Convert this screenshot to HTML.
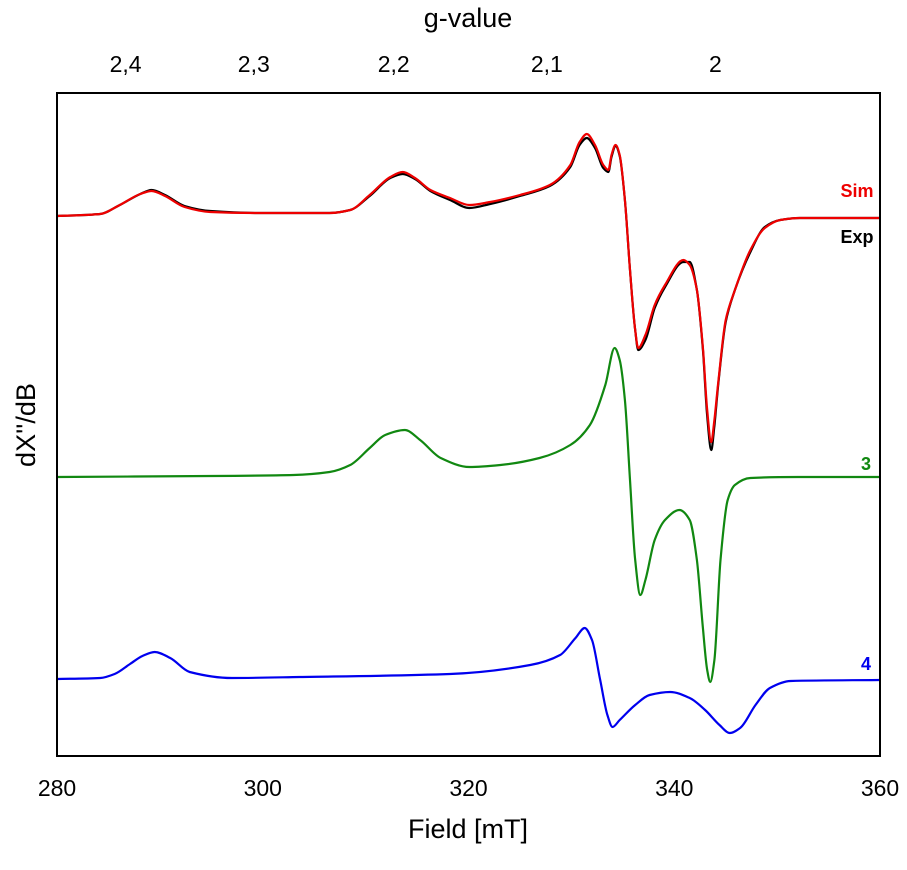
<!DOCTYPE html>
<html><head><meta charset="utf-8"><style>
body{margin:0;background:#fff;}
svg text{font-family:"Liberation Sans",Arial,sans-serif;}
</style></head><body>
<svg id="chart" width="907" height="865" viewBox="0 0 907 865" xmlns="http://www.w3.org/2000/svg"></svg>
<script>
const xTicks=[280,300,320,340,360];
const gTicks=[2.4,2.3,2.2,2.1,2.0];
const gTickLabels=["2,4","2,3","2,2","2,1","2"];
const simField=[280,284.2,286.1,288.1,289.2,290.5,292.4,294.9,299.7,306.5,308.5,310.4,312.4,313.6,314.8,316.3,318.2,320.1,322.1,325.0,327.9,329.9,330.8,331.5,332.3,333.1,333.6,333.9,334.3,334.7,335.2,335.7,336.2,336.5,337.2,338.1,339.1,340.9,341.5,342.2,342.8,343.2,343.6,343.9,344.3,345.0,345.9,347.4,348.8,350.3,352.2,360];
const simValues=[540,542,551,562,565,560,549,544,543,543,546,561,579,584,578,566,558,551,554,561,571,591,614,622,611,591,586,601,611,601,556,486,426,408,421,451,471,496,491,466,406,346,314,336,376,436,466,506,528,536,538,538];
const expValues=[540,542,551,562,566,561,550,545,543,543,546,560,578,582,577,565,556,548,552,560,570,589,611,618,608,588,584,599,610,600,556,486,426,406,416,448,469,494,494,466,404,340,306,330,374,434,466,504,529,536,538,538];
const g3Field=[280,295,303,306.5,308.5,310.4,311.9,313.8,315.3,317.3,320.1,323.1,326.9,329.9,331.8,333.3,334.2,334.7,335.2,335.7,336.2,336.7,337.2,338.1,339.1,340.5,341.5,342.2,342.8,343.2,343.5,343.9,344.5,345.2,345.9,347.4,352,360];
const g3Values=[279,280,281,284,291,308,321,326,316,298,289,291,298,311,331,371,408,396,356,276,196,161,176,216,236,246,236,196,126,86,74,96,196,256,271,278,279,279];
const g4Field=[280,284.2,285.6,287.1,288.3,289.5,291.0,292.9,297,303.6,318.2,326.0,328.9,330.4,331.3,332.0,332.8,333.5,334.0,334.7,336.2,337.6,339.6,341.5,343.0,344.4,345.4,346.4,347.9,349.3,351.3,360];
const g4Values=[77,78,82,92,100,104,98,84,78,79,82,91,101,118,128,116,76,41,29,36,51,61,64,58,46,31,23,28,51,68,75,76];
const hvOverMuB=688;

const L=57,R=880,T=93,B=756;
const xs=f=>L+(f-280)*(R-L)/80;
const ys=v=>B-v*(B-T)/663;
const svg=document.getElementById('chart');
const NS='http://www.w3.org/2000/svg';
function mk(tag,attrs,parent){const e=document.createElementNS(NS,tag);for(const k in attrs)e.setAttribute(k,attrs[k]);(parent||svg).appendChild(e);return e;}
function pathD(fs,vs){
  const n=fs.length,x=fs.map(xs),y=vs.map(ys);
  const d=[],m=new Array(n);
  for(let i=0;i<n-1;i++)d.push((y[i+1]-y[i])/(x[i+1]-x[i]));
  m[0]=d[0];m[n-1]=d[n-2];
  for(let i=1;i<n-1;i++){
    if(d[i-1]*d[i]<=0)m[i]=0;
    else{const w1=2*(x[i+1]-x[i])+(x[i]-x[i-1]),w2=(x[i+1]-x[i])+2*(x[i]-x[i-1]);m[i]=(w1+w2)/(w1/d[i-1]+w2/d[i]);}
  }
  let s='M'+x[0].toFixed(1)+','+y[0].toFixed(1);
  for(let i=0;i<n-1;i++){
    const h=(x[i+1]-x[i])/3;
    s+='C'+(x[i]+h).toFixed(1)+','+(y[i]+m[i]*h).toFixed(1)+' '+(x[i+1]-h).toFixed(1)+','+(y[i+1]-m[i+1]*h).toFixed(1)+' '+x[i+1].toFixed(1)+','+y[i+1].toFixed(1);
  }
  return s;
}
function line(fs,vs,color,name){
  const e=mk('path',{d:pathD(fs,vs),fill:'none',stroke:color,'stroke-width':2.2,'stroke-linejoin':'round'});
  
  
}
line(g4Field,g4Values,'#0000ee','series-4');
line(g3Field,g3Values,'#118811','series-3');
line(simField,expValues,'#000000','series-exp');
line(simField,simValues,'#ee0000','series-sim');
const frame=mk('rect',{x:L,y:T,width:R-L,height:B-T,fill:'none',stroke:'#000','stroke-width':2});


xTicks.forEach(t=>{
  const e=mk('text',{x:xs(t),y:796,'font-size':23,'text-anchor':'middle',fill:'#000'});
  e.textContent=t;
  
  
});
gTicks.forEach((g,i)=>{
  const e=mk('text',{x:xs(hvOverMuB/g),y:72,'font-size':23,'text-anchor':'middle',fill:'#000'});
  e.textContent=gTickLabels[i];
  
  
});
function txt(x,y,s,size,color,name,extra){
  const e=mk('text',Object.assign({x:x,y:y,'font-size':size,fill:color,'text-anchor':'middle'},extra||{}));
  e.textContent=s;
  
  
}
txt(468,838,'Field [mT]',27,'#000','x-axis-title');
txt(468,27,'g-value',27,'#000','top-axis-title');
txt(0,0,"dX''/dB",27,'#000','y-axis-title',{transform:'translate(35,425) rotate(-90)'});
txt(857,197,'Sim',18,'#ee0000','label-sim',{'font-weight':'bold'});
txt(857,243,'Exp',18,'#000','label-exp',{'font-weight':'bold'});
txt(866,470,'3',18,'#118811','label-3',{'font-weight':'bold'});
txt(866,670,'4',18,'#0000ee','label-4',{'font-weight':'bold'});
</script>
</body></html>
